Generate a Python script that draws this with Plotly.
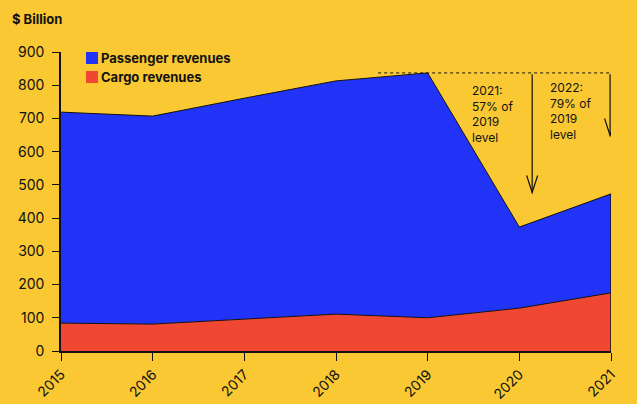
import plotly.graph_objects as go

years = [2015, 2016, 2017, 2018, 2019, 2020, 2021]
cargo = [84, 81, 96, 111, 100, 129, 175]
passenger = [635, 626, 665, 702, 737, 244, 298]
total = [c + p for c, p in zip(cargo, passenger)]
y_ticks = [0, 100, 200, 300, 400, 500, 600, 700, 800, 900]

BG = "#F9C833"
BLUE = "#2233F8"
RED = "#F04733"
INK = "#111111"
FONT = "Inter"

fig = go.Figure()
fig.add_trace(go.Scatter(x=years, y=cargo, stackgroup="s", mode="lines",
                         line=dict(color=INK, width=1), fillcolor=RED,
                         name="Cargo revenues", showlegend=False))
fig.add_trace(go.Scatter(x=years, y=passenger, stackgroup="s", mode="lines",
                         line=dict(color=INK, width=1), fillcolor=BLUE,
                         name="Passenger revenues", showlegend=False))

shapes = []
# right edge outline
shapes.append(dict(type="line", xref="x", yref="y", x0=years[-1], x1=years[-1],
                   y0=0, y1=total[-1], line=dict(color=INK, width=1.5)))
# 2019 level dashed line
lvl = total[4]
shapes.append(dict(type="line", xref="x", yref="y", x0=2018.46, x1=2021.0,
                   y0=lvl, y1=lvl, line=dict(color=INK, width=1, dash="3px,3px")))

# arrows: 2021 -> 57%, 2022 -> 79%
arrows = [(2020.14, 0.57), (2020.99, 0.775)]
for ax_, frac in arrows:
    tip = lvl * frac
    shapes.append(dict(type="line", xref="x", yref="y", x0=ax_, x1=ax_,
                       y0=lvl - 4, y1=tip, line=dict(color=INK, width=1.2)))
    shapes.append(dict(type="path", xref="x", yref="y", xsizemode="pixel",
                       ysizemode="pixel", xanchor=ax_, yanchor=tip,
                       path="M-5.5,17 L0,0 L5.5,17",
                       line=dict(color=INK, width=1.2)))

# manual legend
leg = [("Passenger revenues", BLUE, 58), ("Cargo revenues", RED, 77)]
annotations = []
for label, col, py in leg:
    shapes.append(dict(type="rect", xref="paper", yref="paper",
                       x0=(86 - 61) / 550, x1=(98 - 61) / 550,
                       y0=(351 - py - 6) / 299, y1=(351 - py + 6) / 299,
                       fillcolor=col, line=dict(width=0)))
    annotations.append(dict(xref="paper", yref="paper", x=(99 - 61) / 550,
                            y=(351 - py) / 299, xanchor="left", yanchor="middle",
                            text=f"<b>{label}</b>", showarrow=False,
                            font=dict(family=FONT, size=13, color=INK)))

annotations.append(dict(xref="paper", yref="paper", x=(10 - 61) / 550,
                        y=(351 - 19) / 299, xanchor="left", yanchor="middle",
                        text="<b>$ Billion</b>", showarrow=False,
                        font=dict(family=FONT, size=13, color=INK)))

notes = [(2019.47, 82, "2021:<br>57% of<br>2019<br>level"),
         (2020.32, 79, "2022:<br>79% of<br>2019<br>level")]
for nx, top_px, t in notes:
    annotations.append(dict(xref="x", yref="paper", x=nx,
                            y=(351 - top_px) / 299, xanchor="left",
                            yanchor="top", align="left", text=t, showarrow=False,
                            borderpad=0,
                            font=dict(family=FONT, size=12, color=INK)))

fig.update_layout(
    width=637, height=404,
    margin=dict(l=61, r=26, t=52, b=53, autoexpand=False),
    paper_bgcolor=BG, plot_bgcolor=BG,
    font=dict(family=FONT, size=13, color=INK),
    showlegend=False,
    shapes=shapes, annotations=annotations,
    xaxis=dict(range=[2015, 2021], tickvals=years, ticktext=[str(y) for y in years],
               tickangle=-45, showgrid=False, zeroline=False, showline=True,
               linecolor=INK, linewidth=1.5, ticks="outside", ticklen=8,
               tickcolor=INK, tickwidth=1, fixedrange=True, automargin=False,
               tickfont=dict(size=14)),
    yaxis=dict(range=[0, 900], tickvals=y_ticks, showgrid=False, zeroline=False,
               showline=True, linecolor=INK, linewidth=1.5, ticks="outside",
               ticklen=7, tickcolor=INK, tickwidth=1, fixedrange=True,
               automargin=False, tickfont=dict(size=14), ticklabelstandoff=5),
)

fig.write_html("out.html")
